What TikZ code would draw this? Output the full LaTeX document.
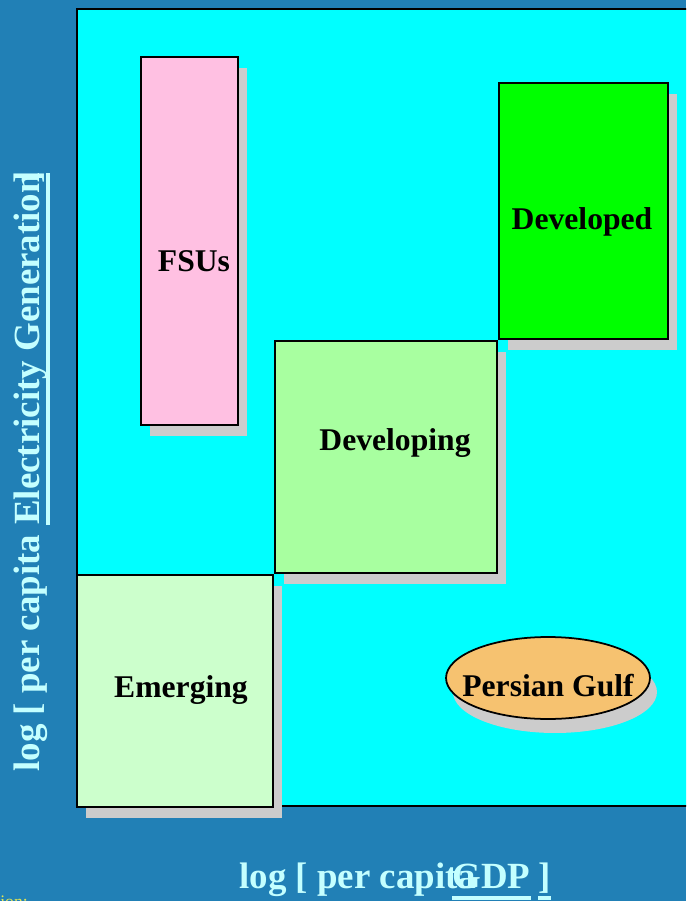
\documentclass[tikz,border=0pt]{standalone}
\usepackage{fontspec}
\setmainfont{Liberation Serif}
\usetikzlibrary{shapes.geometric,shadows}

\definecolor{bgblue}{RGB}{33,128,182}
\definecolor{plotcyan}{RGB}{0,255,255}
\definecolor{fsupink}{RGB}{255,192,226}
\definecolor{devgreen}{RGB}{0,255,0}
\definecolor{devinggreen}{RGB}{168,255,160}
\definecolor{emerggreen}{RGB}{204,255,204}
\definecolor{gulforange}{RGB}{246,194,112}
\definecolor{shadowgray}{RGB}{204,204,204}
\definecolor{axiscyan}{RGB}{196,255,255}
\definecolor{noteyellow}{RGB}{230,230,80}

\begin{document}
\begin{tikzpicture}[
  x=0.02cm, y=-0.02cm,
  region/.style={draw=black, line width=1pt, inner sep=0pt, outer sep=0pt,
    anchor=north west,
    drop shadow={shadow xshift=0.18cm, shadow yshift=-0.22cm,
                 fill=shadowgray, opacity=1}},
  oval/.style={ellipse, draw=black, line width=1pt, inner sep=0pt,
    fill=gulforange,
    drop shadow={shadow xshift=0.14cm, shadow yshift=-0.28cm,
                 fill=shadowgray, opacity=1}},
  lab/.style={font=\bfseries\fontsize{18}{20}\selectfont, inner sep=0pt},
  axislab/.style={font=\bfseries\fontsize{21}{24}\selectfont, text=axiscyan,
    inner sep=0pt, anchor=base west},
  ul/.style={draw=axiscyan, line width=1.8pt}
]
\useasboundingbox (0,0) rectangle (686,901);
\clip (0,0) rectangle (686,901);

% background and plot area
\fill[bgblue] (0,0) rectangle (686,901);
\draw[fill=plotcyan, line width=1.2pt] (77,9) rectangle (700,806);

% country groups
\node[region, fill=fsupink, minimum width=1.94cm, minimum height=7.36cm] (fsu) at (141,57) {};
\node[region, fill=devgreen, minimum width=3.38cm, minimum height=5.12cm] (dvd) at (499,83) {};
\node[region, fill=devinggreen, minimum width=4.44cm, minimum height=4.64cm] (dvg) at (275,341) {};
\node[region, fill=emerggreen, minimum width=3.92cm, minimum height=4.64cm] (emg) at (77,575) {};
\node[oval, minimum width=4.08cm, minimum height=1.64cm] (gulf) at (548,678) {};

% group labels
\node[lab] (fsuT) at (194,261) {FSUs};
\node[lab] (dvdT) at (582,222) {Developed};
\node[lab] (dvgT) at (395,443) {Developing};
\node[lab] (emgT) at (181,690) {Emerging};
\node[lab] (gulfT) at (548,686) {Persian Gulf};

% horizontal axis title
\node[axislab] (xlab) at (239,888) {log [ per capita};
\node[axislab] (xgdp) at (452,888) {GDP};
\node[axislab] (xbr) at (538,888) {]};
\draw[ul] ([yshift=-0.2cm]xgdp.base west) -- ([yshift=-0.2cm]xgdp.base east);
\draw[ul] ([yshift=-0.2cm]xbr.base west) -- ([yshift=-0.2cm]xbr.base east);

% vertical axis title
\node[axislab, rotate=90] (ylab) at (39,772) {log [ per capita};
\node[axislab, rotate=90] (yelec) at (39,525) {Electricity Generation};
\node[axislab, rotate=90] (ybr) at (39,184) {]};
\draw[ul] ([xshift=0.18cm]yelec.base west) -- ([xshift=0.18cm]yelec.base east);

% footnote fragment at the lower edge
\node[font=\fontsize{10}{12}\selectfont, text=noteyellow, inner sep=0pt,
      anchor=base west] (note) at (0,907) {ion:};
\end{tikzpicture}
\end{document}
